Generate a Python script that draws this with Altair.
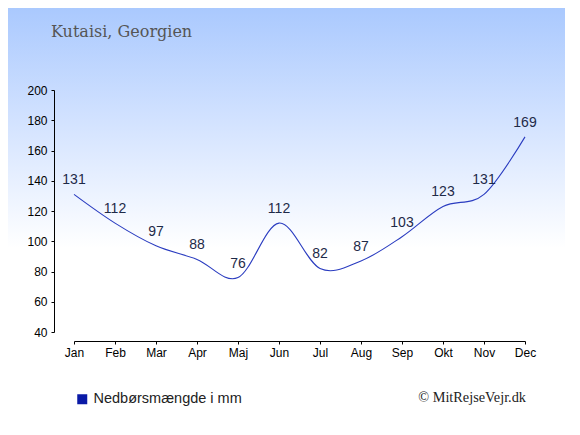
import altair as alt
import pandas as pd

months = ["Jan", "Feb", "Mar", "Apr", "Maj", "Jun", "Jul", "Aug", "Sep", "Okt", "Nov", "Dec"]
precip = [131, 112, 97, 88, 76, 112, 82, 87, 103, 123, 131, 169]
series_name = "Nedbørsmængde i mm"
title_text = "Kutaisi, Georgien"
credit_text = "© MitRejseVejr.dk"
y_ticks = [40, 60, 80, 100, 120, 140, 160, 180, 200]

df = pd.DataFrame({"month": months, "value": precip, "series": series_name})
one = pd.DataFrame({"k": [0]})

W, H = 451, 242
PL, PT = 66, 82

x_enc = alt.X("month:O", sort=months,
              scale=alt.Scale(type="point", padding=0),
              axis=alt.Axis(title=None, labelAngle=0, offset=9, tickSize=3,
                            labelPadding=3, domainColor="black", tickColor="black",
                            labelColor="black", labelFont="Liberation Sans",
                            labelFontSize=12, grid=False, zindex=2, labelOverlap=False))
y_enc = alt.Y("value:Q", scale=alt.Scale(domain=[40, 200], nice=False, zero=False),
              axis=alt.Axis(title=None, values=y_ticks, offset=20, tickSize=3,
                            labelPadding=4, domainColor="black", tickColor="black",
                            labelColor="black", labelFont="Liberation Sans",
                            labelFontSize=12, grid=False, zindex=2, labelOverlap=False,
                            labelFlush=False))

bg = alt.Chart(one).mark_rect(
    fill=alt.Gradient(gradient="linear", x1=0, x2=0, y1=0, y2=1,
                      stops=[alt.GradientStop(offset=0, color="#aac9fe"),
                             alt.GradientStop(offset=0.27, color="#d2e2ff"),
                             alt.GradientStop(offset=0.58, color="#ffffff"),
                             alt.GradientStop(offset=1, color="#ffffff")])
).encode(x=alt.value(-PL), x2=alt.value(W + 40), y=alt.value(-PT), y2=alt.value(H + 90))

line = alt.Chart(df).mark_line(interpolate="cardinal", strokeWidth=1.1).encode(
    x=x_enc, y=y_enc,
    color=alt.Color("series:N", scale=alt.Scale(range=["#2a3cc0"]),
                    legend=alt.Legend(title=None, orient="none", legendX=1, legendY=302,
                                      symbolType="square", symbolSize=100,
                                      symbolFillColor="#0a1aa6", symbolStrokeColor="#0a1aa6",
                                      symbolStrokeWidth=0,
                                      labelFont="Liberation Sans", labelFontSize=14.5,
                                      labelColor="#222222", padding=0))
)

labels = alt.Chart(df).mark_text(dy=-14, fontSize=14, font="Liberation Sans",
                                 color="#1e2a48", baseline="middle").encode(
    x=x_enc, y=y_enc, text="value:Q")

title = alt.Chart(one).mark_text(text=title_text, align="left", baseline="alphabetic",
                                 font="DejaVu Serif", fontSize=16, color="#555555").encode(
    x=alt.value(-23), y=alt.value(-53))

credit = alt.Chart(one).mark_text(text=credit_text, align="right", baseline="alphabetic",
                                  font="Liberation Serif", fontSize=14.3, color="#222222").encode(
    x=alt.value(452), y=alt.value(312))

chart = alt.layer(bg, line, labels, title, credit).properties(
    width=W, height=H,
    autosize=alt.AutoSizeParams(type="none"),
    padding={"left": PL, "top": PT, "right": 40, "bottom": 90},
).configure_view(stroke=None)

chart.save("out.html", embed_options={"renderer": "svg", "actions": False})
